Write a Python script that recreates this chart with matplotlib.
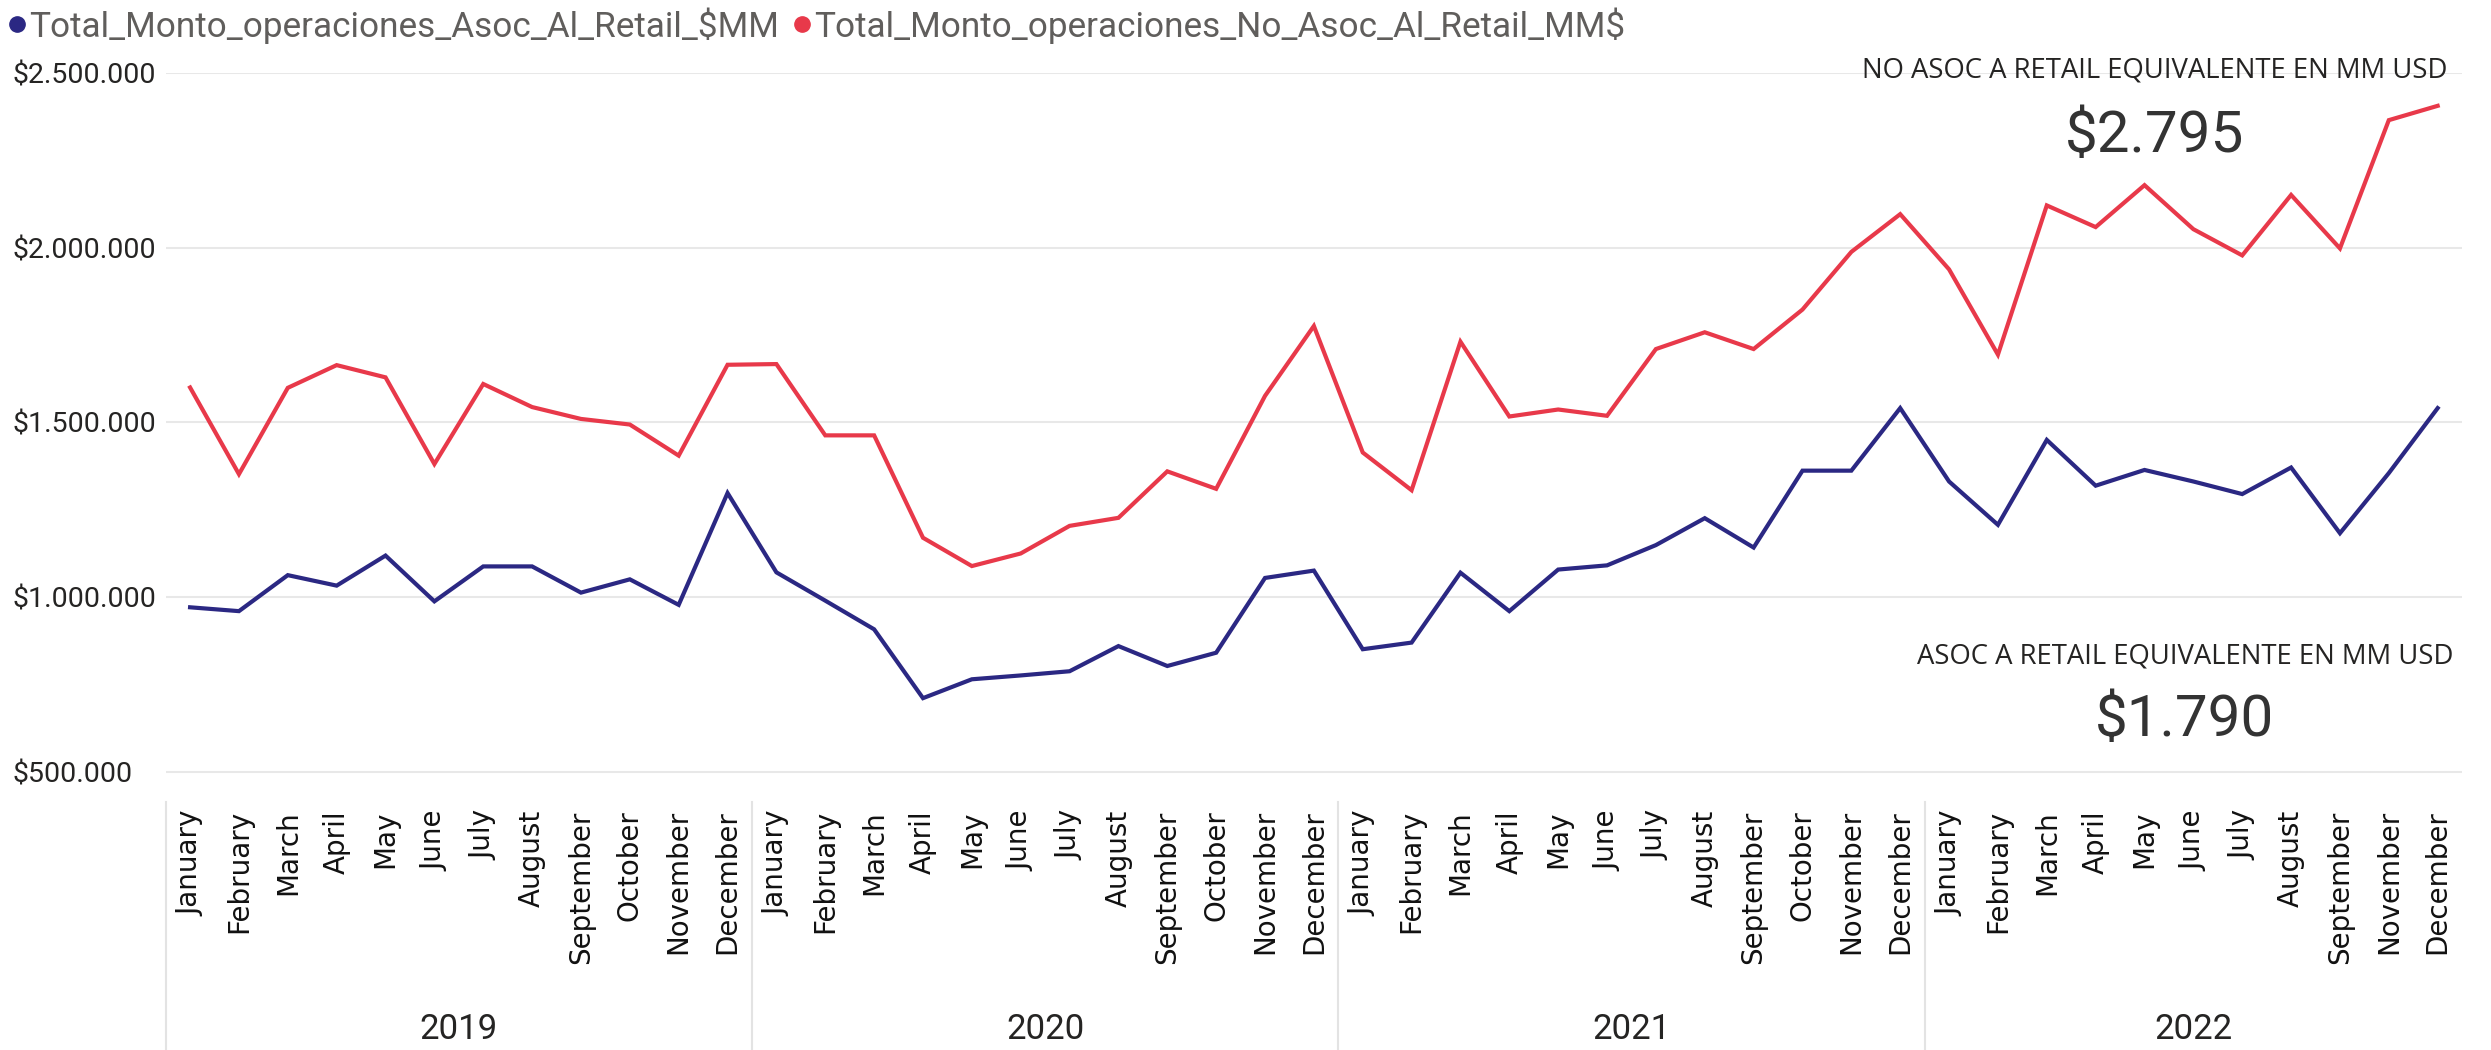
import numpy as np
import matplotlib
matplotlib.use("Agg")
from matplotlib import pyplot as plt
from matplotlib.lines import Line2D
from matplotlib.ticker import FuncFormatter

# Monthly totals (same units as the source report)
MONTHS = ["January", "February", "March", "April", "May", "June", "July",
          "August", "September", "October", "November", "December"]
MONTHS_2022 = ["January", "February", "March", "April", "May", "June", "July",
               "August", "September", "November", "December"]
YEARS = ["2019", "2020", "2021", "2022"]
YEAR_MONTHS = [MONTHS, MONTHS, MONTHS, MONTHS_2022]

asoc_retail = [971000, 960000, 1063000, 1033000, 1119000, 988000, 1088000, 1088000, 1013000, 1051000, 978000, 1298000,
               1071000, 990000, 908000, 711000, 765000, 776000, 788000, 860000, 803000, 841000, 1055000, 1076000,
               851000, 870000, 1070000, 960000, 1079000, 1091000, 1149000, 1226000, 1142000, 1362000, 1362000, 1541000,
               1331000, 1207000, 1450000, 1319000, 1364000, 1331000, 1295000, 1371000, 1183000, 1355000, 1541000]
no_asoc_retail = [1600000, 1352000, 1599000, 1664000, 1629000, 1381000, 1610000, 1544000, 1510000, 1494000, 1405000, 1665000,
                  1667000, 1463000, 1463000, 1170000, 1089000, 1125000, 1204000, 1227000, 1360000, 1310000, 1576000, 1776000,
                  1414000, 1306000, 1731000, 1517000, 1537000, 1519000, 1710000, 1758000, 1710000, 1823000, 1988000, 2096000,
                  1938000, 1694000, 2121000, 2059000, 2179000, 2053000, 1978000, 2151000, 1998000, 2365000, 2406000]

SERIES_NAMES = ["Total_Monto_operaciones_Asoc_Al_Retail_$MM",
                "Total_Monto_operaciones_No_Asoc_Al_Retail_MM$"]
CARD_NO_ASOC = ("NO ASOC A RETAIL EQUIVALENTE EN MM USD", "$2.795")
CARD_ASOC = ("ASOC A RETAIL EQUIVALENTE EN MM USD", "$1.790")
Y_TICKS = [500000, 1000000, 1500000, 2000000, 2500000]

BLUE = "#2B2883"
RED = "#E8394A"
NARROW = ["Roboto", "DejaVu Sans"]

month_labels = [m for months in YEAR_MONTHS for m in months]
x = np.arange(len(month_labels))

fig = plt.figure(figsize=(24.91, 10.5), dpi=100)
ax = fig.add_axes([0.0665, 0.2429, 0.9219, 0.6876])

ax.plot(x, asoc_retail, color=BLUE, lw=3.0, solid_joinstyle="miter")
ax.plot(x, no_asoc_retail, color=RED, lw=3.0, solid_joinstyle="miter")

ax.set_xlim(-0.5, len(x) - 0.5)
ax.set_ylim(434000, 2500000)
for s in ax.spines.values():
    s.set_visible(False)

# y axis: left aligned labels like the original report
ax.set_yticks(Y_TICKS)
ax.yaxis.set_major_formatter(FuncFormatter(lambda v, p: "${:,.0f}".format(v).replace(",", ".")))
ax.tick_params(axis="y", length=0, pad=110, labelsize=20.5, labelcolor="#252423")
for lab in ax.get_yticklabels():
    lab.set_horizontalalignment("left")
    lab.set_family(NARROW)
ax.grid(axis="y", color="#E8E8E8", lw=1.5)
ax.set_axisbelow(True)

# x axis: months rotated, years grouped below
ax.set_xticks(x)
ax.set_xticklabels(month_labels, rotation=90, fontsize=20, color="#111111")
ax.tick_params(axis="x", length=0, pad=11)

start = -0.5
trans = ax.get_xaxis_transform()
for year, months in zip(YEARS, YEAR_MONTHS):
    ax.plot([start, start], [-0.0097, -0.36], transform=trans, clip_on=False,
            color="#E3E3E3", lw=1.5)
    ax.text(start + len(months) / 2, -0.3255, year, transform=trans, ha="center",
            va="center", fontsize=25, family=NARROW, color="#252423")
    start += len(months)

# legend
handles = [Line2D([], [], marker="o", ls="none", color=c, markersize=11) for c in (BLUE, RED)]
ax.legend(handles, SERIES_NAMES, ncol=2, loc="upper left", bbox_to_anchor=(-0.001, 1.0),
          bbox_transform=fig.transFigure, frameon=False, handletextpad=0.0,
          columnspacing=0.3, borderaxespad=0.2, borderpad=0, handlelength=0.7,
          labelcolor="#605E5C", prop={"family": NARROW, "size": 25.3})

# cards
fig.text(2155 / 2491, 1 - 71 / 1050, CARD_NO_ASOC[0], ha="center", va="center",
         fontsize=19.8, family="Open Sans", color="#252423")
fig.text(2155 / 2491, 1 - 137 / 1050, CARD_NO_ASOC[1], ha="center", va="center",
         fontsize=42, family=NARROW, color="#333333")
fig.text(2185 / 2491, 1 - 656 / 1050, CARD_ASOC[0], ha="center", va="center",
         fontsize=19.8, family="Open Sans", color="#252423")
fig.text(2185 / 2491, 1 - 721 / 1050, CARD_ASOC[1], ha="center", va="center",
         fontsize=42, family=NARROW, color="#333333")

fig.savefig("out.png", dpi=100, facecolor="white")
